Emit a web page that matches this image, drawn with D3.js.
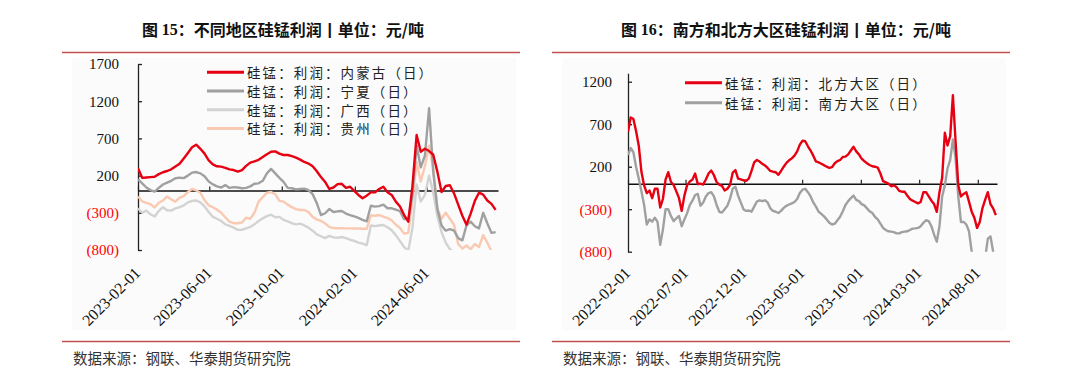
<!DOCTYPE html>
<html lang="zh">
<head>
<meta charset="utf-8">
<script src="https://d3js.org/d3.v7.min.js"></script>
<style>
  body { margin: 0; background: #fff; }
  svg { display: block; }
  .num { font-family: "Liberation Serif", "DejaVu Serif", serif; }
  .cjk { font-family: "Noto Sans CJK SC", sans-serif; }
</style>
</head>
<body>
<svg id="chart" width="1080" height="382"></svg>
<script>
// ---- 图15: 不同地区硅锰利润 (weekly, from 2023-02-01) ----
const regionStart = "2023-02-01";
const regionNames = ["硅锰：利润：内蒙古（日）", "硅锰：利润：宁夏（日）", "硅锰：利润：广西（日）", "硅锰：利润：贵州（日）"];
const innerMongolia = [300,170,175,180,185,220,245,262,285,322, 360,430,505,580,615,560,495,405,350,325,
  320,305,283,275,255,275,330,375,392,412, 450,488,520,525,495,477,477,462,442,415,
  383,362,326,258,180,115,20,40,85,90, 35,50,-5,-60,-105,-70,-25,-25,20,50,
  -25,-60,-150,-215,-330,-420,60,745,520,560, 530,480,250,-20,60,70,-40,-190,-340,-460,
  -310,-140,-30,-55,-135,-180,-260];
const ningxia = [150,95,40,5,-15,35,80,105,130,165, 172,166,200,240,248,230,190,120,82,55,
  40,72,35,45,40,30,35,55,90,96, 130,230,290,230,170,115,35,30,15,20,
  25,5,-50,-170,-330,-306,-250,-290,-280,-275, -310,-330,-348,-368,-395,-415,-205,-217,-210,-190,
  -239,-239,-258,-278,-385,-380,-60,600,310,470, 1105,250,-250,-470,-540,-520,-540,-640,-670,-470,
  -419,-480,-510,-300,-440,-570,-560];
const guangxi = [-240,-300,-270,-320,-350,-275,-225,-265,-270,-240, -225,-200,-160,-140,-135,-160,-215,-290,-355,-380,
  -410,-455,-475,-500,-530,-528,-510,-490,-455,-410, -375,-345,-325,-360,-355,-395,-415,-440,-455,-445,
  -470,-500,-540,-590,-615,-640,-610,-630,-635,-625, -640,-662,-678,-700,-715,-735,-470,-480,-470,-464,
  -495,-535,-600,-680,-760,-810,-500,80,-150,-60, 200,-30,-350,-560,-700,-790,-830,-850,-880,-900,
  -900,-900,-900,-880,-900,-920,-920];
const guizhou = [-80,-145,-165,-185,-230,-165,-135,-80,-120,-150, -95,-75,-20,20,0,-30,-130,-200,-225,-260,
  -300,-360,-420,-440,-441,-430,-365,-380,-300,-150, -90,-30,-20,-50,-140,-150,-190,-225,-250,-262,
  -262,-290,-355,-390,-410,-441,-490,-505,-508,-508, -510,-510,-512,-512,-515,-515,-335,-340,-330,-350,
  -370,-400,-460,-505,-580,-570,-130,380,120,330, 600,300,-250,-380,-300,-380,-460,-720,-780,-740,
  -790,-720,-760,-600,-700,-820,-850];
const regionTicks = ["2023-02-01", "2023-06-01", "2023-10-01", "2024-02-01", "2024-06-01"];
const regionYTicks = [-800, -300, 200, 700, 1200, 1700];

// ---- 图16: 南方和北方大区硅锰利润 (weekly, from 2022-02-01) ----
const areaStart = "2022-02-01";
const areaNames = ["硅锰：利润：北方大区（日）", "硅锰：利润：南方大区（日）"];
const north = [612,780,760,620,450,140,-20,-110,-80,-170, -60,-60,-280,-180,50,135,20,-15,-90,-170,
  -320,-140,-20,25,48,120,-5,0,-10,50, 120,155,100,20,-10,-25,-80,-60,-15,130,
  160,60,50,40,35,60,150,250,280,260, 235,215,185,150,141,135,105,150,200,245,
  275,298,330,380,460,505,500,440,390,330, 262,250,235,218,200,185,195,240,265,279,
  315,318,345,390,435,380,345,295,265,240, 220,205,200,190,120,30,15,0,-30,-20,
  -40,-85,-94,-94,-140,-180,-200,-215,-231,-215, -100,-100,-150,-200,-240,-330,-100,70,600,450,
  560,1040,500,-15,-150,-120,-100,-211,-329,-400, -520,-450,-290,-190,-100,-240,-290,-370];
const south = [337,420,370,200,60,-90,-250,-480,-420,-447, -400,-450,-720,-540,-300,-300,-380,-440,-407,-380,
  -500,-420,-349,-251,-200,-133,-120,-260,-220,-150, -110,-100,-150,-250,-330,-340,-300,-260,-175,-60,
  -35,-140,-220,-300,-320,-315,-329,-270,-210,-195, -205,-195,-220,-290,-320,-330,-345,-320,-285,-260,
  -245,-231,-215,-180,-110,-70,-60,-100,-150,-220, -270,-330,-355,-385,-420,-460,-480,-470,-430,-388,
  -325,-250,-205,-170,-140,-190,-205,-240,-255,-290, -325,-345,-390,-420,-470,-520,-545,-560,-564,-570,
  -584,-584,-570,-564,-560,-545,-528,-525,-520,-500, -460,-430,-440,-500,-600,-682,-500,-150,-20,181,
  280,520,300,-150,-450,-450,-480,-560,-800,-900, -900,-900,-900,-880,-650,-620,-800,-870];
const areaTicks = ["2022-02-01", "2022-07-01", "2022-12-01", "2023-05-01", "2023-10-01", "2024-03-01", "2024-08-01"];
const areaYTicks = [-800, -300, 200, 700, 1200];

const parse = d3.timeParse("%Y-%m-%d");
const fmt = d3.timeFormat("%Y-%m-%d");
const svg = d3.select("#chart");
const ruleColor = "#c0504d";

function weekly(start, n) {
  const s = parse(start);
  return d3.range(n).map(i => d3.timeDay.offset(s, 7 * i));
}

function drawPanel(p) {
  const g = svg.append("g");

  g.append("rect").attr("x", p.box[0] + 10).attr("y", 58)
    .attr("width", p.box[1] - p.box[0] - 14).attr("height", 272).attr("fill", "#fbfbfb");

  // header / footer rules
  [52.5, 341.5].forEach(yy => g.append("line")
    .attr("x1", p.box[0]).attr("x2", p.box[1]).attr("y1", yy).attr("y2", yy)
    .attr("stroke", ruleColor).attr("stroke-width", 1.6));

  g.append("text").attr("class", "cjk").attr("x", p.titleX).attr("y", 29)
    .attr("text-anchor", "middle").attr("dominant-baseline", "central")
    .attr("font-size", 16).attr("font-weight", "bold").attr("fill", "#111")
    .call(t => {
      t.append("tspan").text("图 ");
      t.append("tspan").attr("class", "num").text(p.titleNo);
      t.append("tspan").text(p.title);
    });

  g.append("text").attr("class", "cjk").attr("x", p.box[0] + 11).attr("y", 357)
    .attr("dominant-baseline", "central").attr("font-size", 14.5).attr("fill", "#333")
    .text("数据来源：钢联、华泰期货研究院");

  const x = d3.scaleTime().domain(p.xDomain.map(parse)).range(p.xRange);
  const y = d3.scaleLinear().domain(p.yDomain).range(p.yRange);
  const y0 = y(0);

  // y axis
  const ya = g.append("g").attr("transform", `translate(${p.xRange[0]},0)`)
    .call(d3.axisLeft(y).tickValues(p.yTicks).tickSizeInner(-4).tickSizeOuter(0)
      .tickPadding(p.labelPad).tickFormat(d => d < 0 ? `(${-d})` : d));
  ya.select(".domain").attr("stroke", "#222").attr("stroke-width", 1.3);
  ya.selectAll(".tick line").attr("stroke", "#222").attr("stroke-width", 1.3);
  ya.selectAll(".tick text").attr("class", "num").attr("font-size", 15)
    .attr("fill", d => d < 0 ? "#ff0000" : "#111");

  // x axis on zero line
  const xa = g.append("g").attr("transform", `translate(0,${y0})`)
    .call(d3.axisBottom(x).tickValues(p.xTicks.map(parse)).tickSizeInner(-4).tickSizeOuter(0)
      .tickFormat(fmt));
  xa.select(".domain").attr("stroke", "#111").attr("stroke-width", 1.4);
  xa.selectAll(".tick line").attr("stroke", "#222").attr("stroke-width", 1.2);
  xa.selectAll(".tick text").attr("class", "num").attr("font-size", 16).attr("fill", "#111")
    .attr("text-anchor", "end").attr("y", 0).attr("dy", 0)
    .attr("transform", `translate(3,${274 - y0}) rotate(-45)`);

  // series
  const clipId = "clip" + p.titleNo;
  g.append("clipPath").attr("id", clipId).append("rect")
    .attr("x", p.xRange[0]).attr("y", p.yRange[1] - 10)
    .attr("width", p.xRange[1] - p.xRange[0] + 5).attr("height", p.yRange[0] - p.yRange[1] + 10);
  const line = d3.line().x(d => x(d[0])).y(d => y(d[1]));
  const lines = g.append("g").attr("clip-path", `url(#${clipId})`);
  p.order.forEach(k => {
    const s = p.series[k];
    lines.append("path").datum(p.dates.map((d, i) => [d, s.values[i]]))
      .attr("d", line).attr("fill", "none").attr("stroke", s.color)
      .attr("stroke-width", 2.4).attr("stroke-linejoin", "round");
  });

  // legend
  const lg = g.append("g");
  p.series.forEach((s, i) => {
    const yy = p.legend.y + i * p.legend.dy;
    lg.append("line").attr("x1", p.legend.x).attr("x2", p.legend.x + 37)
      .attr("y1", yy).attr("y2", yy).attr("stroke", s.color).attr("stroke-width", 3);
    lg.append("text").attr("class", "cjk").attr("x", p.legend.x + 40).attr("y", yy)
      .attr("dominant-baseline", "central").attr("font-size", 13.5)
      .attr("letter-spacing", "2.1px").attr("fill", "#222").text(s.name);
  });
}

const colors = ["#e60012", "#a0a0a0", "#d3d3d3", "#f9c9b1"];

drawPanel({
  box: [62, 520], titleX: 283, titleNo: "15", title: "：不同地区硅锰利润丨单位：元/吨",
  xDomain: ["2023-02-01", "2024-09-29"], xRange: [138, 498],
  yDomain: [-800, 1700], yRange: [250, 64], yTicks: regionYTicks, labelPad: 19,
  xTicks: regionTicks, dates: weekly(regionStart, innerMongolia.length),
  series: [innerMongolia, ningxia, guangxi, guizhou].map((v, i) => ({ name: regionNames[i], values: v, color: colors[i] })),
  order: [3, 2, 1, 0],
  legend: { x: 207, y: 72.3, dy: 18.7 }
});

drawPanel({
  box: [552, 1010], titleX: 786, titleNo: "16", title: "：南方和北方大区硅锰利润丨单位：元/吨",
  xDomain: ["2022-02-01", "2024-09-20"], xRange: [628, 997],
  yDomain: [-800, 1300], yRange: [251.7, 73.2], yTicks: areaYTicks, labelPad: 16,
  xTicks: areaTicks, dates: weekly(areaStart, north.length),
  series: [north, south].map((v, i) => ({ name: areaNames[i], values: v, color: colors[i] })),
  order: [1, 0],
  legend: { x: 685, y: 82.7, dy: 20 }
});
</script>
</body>
</html>
